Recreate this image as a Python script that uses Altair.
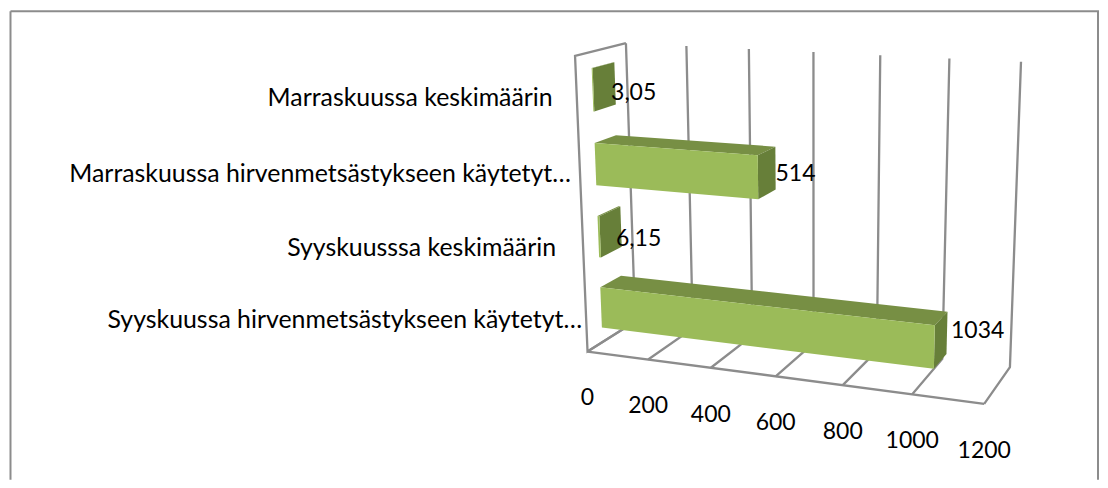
import altair as alt
import numpy as np
import pandas as pd

# ---- chart values ----
categories = [
    "Syyskuussa hirvenmetsästykseen käytetyt…",
    "Syyskuusssa keskimäärin",
    "Marraskuussa hirvenmetsästykseen käytetyt…",
    "Marraskuussa keskimäärin",
]
values = [1034, 6.15, 514, 3.05]
value_labels = ["1034", "6,15", "514", "3,05"]
axis_ticks = [0, 200, 400, 600, 800, 1000, 1200]
AXIS_MAX = 1200

# ---- text nudges (separate from the data) ----
label_pad = [4, 27, 9, 24]
value_dx = [4, -5, 0, -4]
value_dy = [-2, 12, 6, 10]

# ---- camera: fitted to the box corners, projects (value, depth, height) ----
front = [(587, 352), (649, 358), (712, 367), (777, 376), (843, 385), (913, 395), (986, 405)]
back = [(627, 43), (687, 45), (750, 48), (814, 52), (881, 55), (950, 58), (1022, 62)]
calib = [((k / 6, 0, 0), p) for k, p in enumerate(front)]
calib += [((k / 6, 1, 1), p) for k, p in enumerate(back)]
calib += [((0, 0, 1), (575, 57)), ((0, 1, 0), (636, 323)), ((1, 1, 0), (1010, 367))]
A, b = [], []
for (u, d, h), (X, Y) in calib:
    A.append([u, d, h, 1, 0, 0, 0, 0, -X * u, -X * d, -X * h]); b.append(X)
    A.append([0, 0, 0, 0, u, d, h, 1, -Y * u, -Y * d, -Y * h]); b.append(Y)
m = np.linalg.lstsq(np.array(A, float), np.array(b, float), rcond=None)[0]
U = f"(datum.v/{AXIS_MAX})"
den = f"({m[8]}*{U}+{m[9]}*datum.d+{m[10]}*datum.h+1)"
PX = f"({m[0]}*{U}+{m[1]}*datum.d+{m[2]}*datum.h+{m[3]})/{den}"
PY = f"({m[4]}*{U}+{m[5]}*datum.d+{m[6]}*datum.h+{m[7]})/{den}"

BAND_HALF = 0.072
D0, D1 = 0.30, 0.73

W, H = 1092, 472


def xe(f="px"):
    return alt.X(f"{f}:Q", scale=alt.Scale(domain=[8, 8 + W], nice=False, zero=False), axis=None)


def ye(f="py"):
    return alt.Y(f"{f}:Q", scale=alt.Scale(domain=[8, 8 + H], reverse=True, nice=False, zero=False), axis=None)


def project(df):
    return alt.Chart(df).transform_calculate(px=PX, py=PY)


# grid lines
seg_rows = []
def seg(name, pts):
    for i, (v, d, h) in enumerate(pts):
        seg_rows.append(dict(seg=name, o=i, v=v, d=d, h=h))

for t in axis_ticks:
    seg(f"t{t}", [(t, 0, 0), (t, 1, 0), (t, 1, 1)])
seg("front", [(0, 0, 0), (AXIS_MAX, 0, 0)])
seg("left", [(0, 1, 0), (0, 0, 0), (0, 0, 1), (0, 1, 1)])
grid = (
    project(pd.DataFrame(seg_rows))
    .mark_line(color="#8c8c8c", strokeWidth=2.3, strokeJoin="miter")
    .encode(x=xe(), y=ye(), detail="seg:N", order="o:Q")
)

# bar faces
face_rows = []
for i, val in enumerate(values):
    h0 = (i + 0.5) / len(values) - BAND_HALF
    h1 = (i + 0.5) / len(values) + BAND_HALF
    faces = {
        "top": [(0, D0, h1), (val, D0, h1), (val, D1, h1), (0, D1, h1)],
        "side": [(val, D0, h0), (val, D0, h1), (val, D1, h1), (val, D1, h0)],
        "front": [(0, D0, h0), (val, D0, h0), (val, D0, h1), (0, D0, h1)],
    }
    for fname, pts in faces.items():
        for j, (v, d, h) in enumerate(pts):
            face_rows.append(dict(poly=f"{i}-{fname}", face=fname, o=j, v=v, d=d, h=h))
bars = (
    project(pd.DataFrame(face_rows))
    .mark_line(filled=True, interpolate="linear-closed", strokeWidth=0)
    .encode(
        x=xe(), y=ye(), detail="poly:N", order="o:Q",
        color=alt.Color(
            "face:N",
            scale=alt.Scale(domain=["front", "top", "side"], range=["#9BBB59", "#778F44", "#677F39"]),
            legend=None,
        ),
    )
)

FONT = "Lato"
CAT_SIZE = 24.9
NUM_SIZE = 23

cat_df = pd.DataFrame(
    dict(
        label=categories, pad=label_pad, v=0, d=0,
        h=[(i + 0.5) / len(categories) for i in range(len(categories))],
    )
)
cat_text = (
    project(cat_df)
    .transform_calculate(tx="datum.px-datum.pad")
    .mark_text(align="right", baseline="middle", dy=4.5, font=FONT, fontSize=CAT_SIZE, color="#000000")
    .encode(x=xe("tx"), y=ye(), text="label:N")
)

tick_df = pd.DataFrame(dict(v=axis_ticks, d=0, h=0, label=[str(t) for t in axis_ticks]))
tick_text = (
    project(tick_df)
    .mark_text(align="center", baseline="middle", dy=47, font=FONT, fontSize=NUM_SIZE, color="#000000")
    .encode(x=xe(), y=ye(), text="label:N")
)

val_df = pd.DataFrame(
    dict(
        v=values, d=D1, label=value_labels, ndx=value_dx, ndy=value_dy,
        h=[(i + 0.5) / len(values) for i in range(len(values))],
    )
)
val_text = (
    project(val_df)
    .transform_calculate(tx="datum.px+datum.ndx", ty="datum.py+datum.ndy")
    .mark_text(align="left", baseline="middle", font=FONT, fontSize=NUM_SIZE, color="#000000")
    .encode(x=xe("tx"), y=ye("ty"), text="label:N")
)

# chart frame
frame_df = pd.DataFrame({"k": [0]})
frame_color = "#8c8c8c"
fl = alt.Chart(frame_df).mark_rule(color=frame_color, strokeWidth=2).encode(
    x=alt.value(2.5), y=alt.value(3), y2=alt.value(H))
ft = alt.Chart(frame_df).mark_rule(color=frame_color, strokeWidth=2).encode(
    x=alt.value(2.5), x2=alt.value(W), y=alt.value(3))
fr = alt.Chart(frame_df).mark_rule(color=frame_color, strokeWidth=2).encode(
    x=alt.value(W - 1), y=alt.value(3), y2=alt.value(H))

chart = (
    alt.layer(fl, ft, fr, grid, bars, cat_text, tick_text, val_text)
    .properties(width=W, height=H, padding=0, background="#ffffff")
    .configure_view(stroke=None)
)
chart.save("out.html", embed_options={"renderer": "svg", "actions": False})
